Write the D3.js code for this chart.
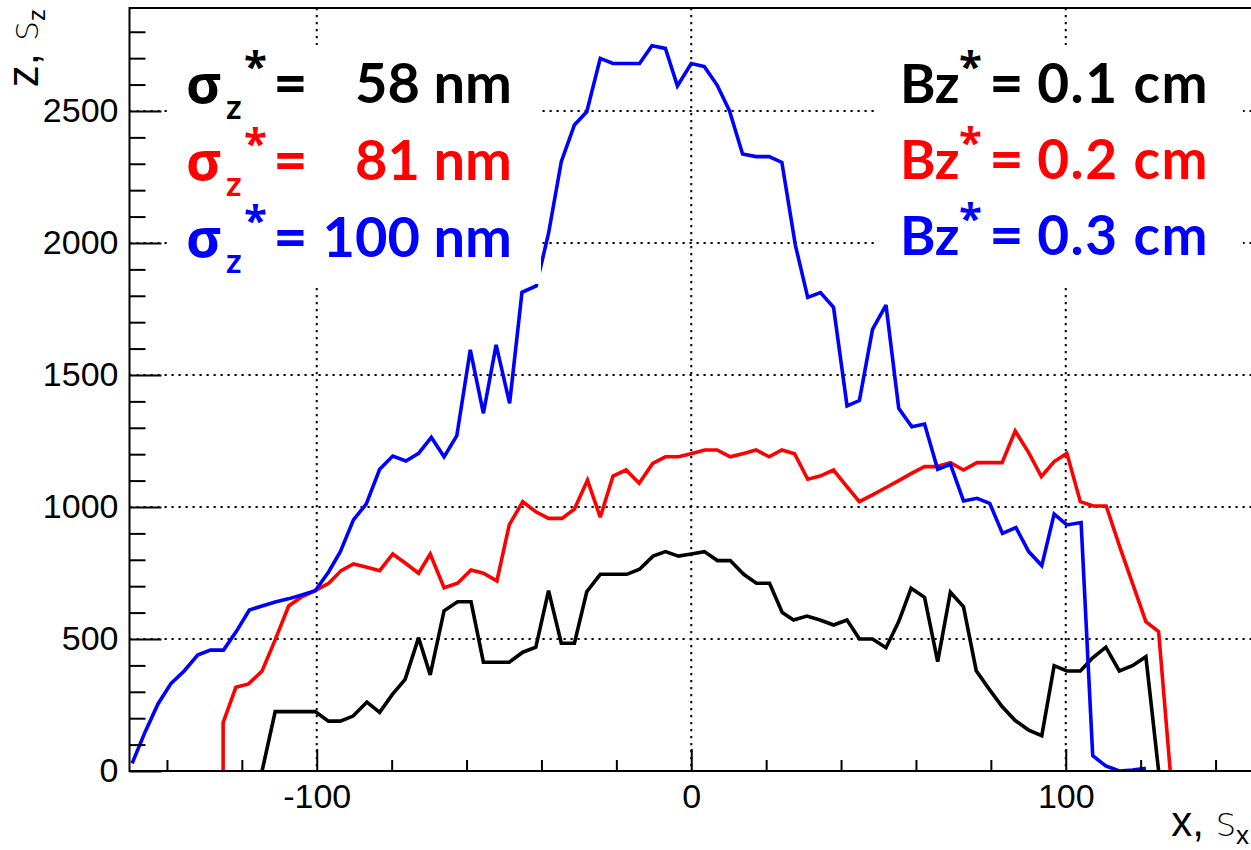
<!DOCTYPE html>
<html>
<head>
<meta charset="utf-8">
<script src="https://cdn.jsdelivr.net/npm/d3@7"></script>
<style>
  html, body { margin: 0; padding: 0; background: #fff; }
  svg { display: block; }
</style>
</head>
<body>
<svg id="chart" width="1251" height="850"></svg>
<script>
// ---------------- data ----------------
const blackX = [-114.6,-111.1,-107.6,-104.0,-100.4,-96.9,-93.7,-90.3,-86.6,-83.2,-79.8,-76.4,-72.8,-69.7,-66.0,-62.4,-58.8,-55.5,-52.0,-48.6,-45.0,-41.5,-38.1,-34.7,-31.2,-27.9,-24.3,-20.8,-17.2,-13.8,-10.2,-6.9,-3.4,0,3.5,7.0,10.4,14.0,17.4,20.9,24.3,27.3,30.9,34.4,38.0,41.6,44.9,48.4,52.0,55.4,58.7,62.3,65.8,69.2,72.7,76.1,79.4,83.0,86.5,90.1,93.6,96.9,100.3,103.9,107.2,110.7,114.3,117.8,121.4,124.8];
const blackY = [0,225,225,225,225,189,189,208,261,222,290,347,505,364,607,641,641,412,412,412,450,469,683,484,484,679,745,745,745,764,814,831,814,822,831,797,797,745,711,711,600,572,587,572,553,572,500,500,467,566,692,658,414,677,622,380,313,244,191,155,134,399,379,379,429,469,379,399,433,0];

const redX = [-125.0,-125.0,-121.6,-118.2,-114.6,-111.3,-107.5,-104.0,-100.4,-96.8,-93.5,-90.2,-86.6,-83.2,-79.7,-76.2,-72.8,-69.7,-66.0,-62.4,-58.8,-55.5,-51.9,-48.6,-45.0,-41.5,-38.1,-34.5,-31.2,-27.7,-24.3,-20.9,-17.4,-13.9,-10.3,-6.9,-3.4,0.2,3.6,6.9,10.4,14.0,17.3,20.8,24.2,27.6,31.1,34.4,38.0,41.4,44.9,48.4,51.9,55.4,58.8,62.3,65.6,69.2,72.7,76.3,79.6,83.0,86.5,90.1,93.5,96.9,100.3,103.9,107.4,110.8,114.4,117.9,121.4,124.8,127.9];
const redY = [0,183,317,330,379,490,625,660,683,711,759,784,772,759,822,786,749,822,694,711,761,749,720,932,1020,982,957,957,992,1102,961,1117,1140,1090,1165,1190,1190,1203,1216,1216,1190,1203,1216,1190,1216,1202,1105,1117,1140,1080,1020,1046,1073,1100,1127,1153,1153,1168,1140,1168,1168,1168,1288,1206,1115,1172,1203,1020,1004,1004,850,708,566,528,0];

const blueX = [-149.3,-145.8,-142.4,-138.9,-135.4,-131.8,-128.4,-124.9,-121.5,-118.0,-114.6,-111.1,-107.6,-104.0,-100.4,-96.8,-93.7,-90.2,-86.8,-83.2,-79.7,-76.2,-72.8,-69.4,-66.0,-62.6,-59.0,-55.5,-52.1,-48.5,-45.2,-41.4,-38.1,-34.7,-31.2,-27.9,-24.3,-20.9,-17.4,-13.8,-10.5,-6.9,-3.7,0,3.5,6.9,10.2,13.7,17.3,20.8,24.2,27.8,31.1,34.5,38.0,41.6,44.9,48.4,52.0,55.4,58.9,62.3,65.8,69.2,72.7,76.3,79.7,83.1,86.7,90.1,93.6,96.9,100.3,104.1,107.2,110.7,114.3,117.8,121.4];
const blueY = [29,149,254,332,379,439,458,458,528,610,625,640,652,667,683,755,831,951,1011,1143,1193,1174,1203,1264,1190,1270,1595,1355,1614,1393,1813,1837,2037,2308,2447,2497,2699,2680,2680,2680,2747,2737,2595,2680,2668,2598,2501,2337,2327,2327,2305,1992,1794,1812,1756,1383,1403,1673,1765,1374,1304,1314,1143,1162,1023,1033,1014,900,922,831,778,973,932,941,58,19,0,4,10];

const seriesColors = ["#000000", "#ff0000", "#0000ff"];
const xDomain = [-150, 150];
const yDomain = [0, 2890];
const xMajorTicks = [-100, 0, 100];
const xTickLabels = ["-100", "0", "100"];
const xMinorTicks = [-140,-120,-80,-60,-40,-20,20,40,60,80,120,140];
const yMajorTicks = [0, 500, 1000, 1500, 2000, 2500];
const yTickLabels = ["0", "500", "1000", "1500", "2000", "2500"];
const yMinorTicks = d3.range(100, 2890, 100).filter(v => v % 500 !== 0);

const leftLegendValues = ["58 nm", "81 nm", "100 nm"];
const rightLegendValues = ["0.1 cm", "0.2 cm", "0.3 cm"];

// ---------------- layout ----------------
const L = 129.5, R = 1253, T = 8, B = 771;
const svg = d3.select("#chart");
const x = d3.scaleLinear().domain(xDomain).range([L, R]);
const y = d3.scaleLinear().domain(yDomain).range([B, T]);

svg.append("defs").append("clipPath").attr("id", "frame")
  .append("rect").attr("x", L).attr("y", T).attr("width", R - L).attr("height", B - T);

// grid
const grid = svg.append("g").attr("stroke", "#000").attr("stroke-width", 2)
  .attr("stroke-dasharray", "2.2,4.8");
grid.selectAll(".gx").data(xMajorTicks).join("line")
  .attr("x1", d => x(d)).attr("x2", d => x(d)).attr("y1", T).attr("y2", B);
grid.selectAll(".gy").data(yMajorTicks.filter(d => d > 0)).join("line")
  .attr("x1", L).attr("x2", R).attr("y1", d => y(d)).attr("y2", d => y(d));

// curves
const line = d3.line().x(d => x(d[0])).y(d => y(d[1]));
const series = [
  d3.zip(blackX, blackY),
  d3.zip(redX, redY),
  d3.zip(blueX, blueY)
];
const curves = svg.append("g").attr("clip-path", "url(#frame)");
series.forEach((s, i) => {
  curves.append("path").datum(s).attr("d", line)
    .attr("fill", "none").attr("stroke", seriesColors[i])
    .attr("stroke-width", 3.6).attr("stroke-linejoin", "miter")
    .attr("stroke-miterlimit", 3);
});

// white legend boxes (hide lines under the text blocks)
svg.append("rect").attr("x", 170).attr("y", 45).attr("width", 371).attr("height", 239).attr("fill", "#fff");
svg.append("rect").attr("x", 878).attr("y", 45).attr("width", 365).attr("height", 239).attr("fill", "#fff");

// legend texts
const baseY = [103, 180, 257];
const bold = "Lato, 'Open Sans', 'Noto Sans', sans-serif";
const greek = "'Open Sans', 'Noto Sans', 'DejaVu Sans', sans-serif";
const eqFont = "'Open Sans', 'Noto Sans', sans-serif";
const lg = svg.append("g").attr("font-weight", "bold");
leftLegendValues.forEach((v, i) => {
  const c = seriesColors[i], by = baseY[i];
  lg.append("text").attr("x", 186).attr("y", by).attr("fill", c)
    .attr("font-family", greek).attr("font-size", 54).text("σ");
  lg.append("text").attr("x", 226).attr("y", by + 16).attr("fill", c)
    .attr("font-family", bold).attr("font-size", 34).text("z");
  lg.append("text").attr("x", 244).attr("y", by - 22).attr("fill", c)
    .attr("font-family", eqFont).attr("font-size", 42).text("*");
  lg.append("text").attr("x", 275).attr("y", by).attr("fill", c)
    .attr("font-family", eqFont).attr("font-size", 54).text("=");
  lg.append("text").attr("x", 512).attr("y", by).attr("fill", c)
    .attr("text-anchor", "end")
    .attr("font-family", bold).attr("font-size", 56).text(v);
});
const rBase = [103, 179, 255];
rightLegendValues.forEach((v, i) => {
  const c = seriesColors[i], by = rBase[i];
  lg.append("text").attr("x", 900).attr("y", by).attr("fill", c)
    .attr("font-family", bold).attr("font-size", 54).text("Bz");
  lg.append("text").attr("x", 959).attr("y", by - 22).attr("fill", c)
    .attr("font-family", eqFont).attr("font-size", 42).text("*");
  lg.append("text").attr("x", 991).attr("y", by).attr("fill", c)
    .attr("font-family", eqFont).attr("font-size", 54).text("=");
  lg.append("text").attr("x", 1209).attr("y", by).attr("fill", c)
    .attr("text-anchor", "end").attr("letter-spacing", 1.5)
    .attr("font-family", bold).attr("font-size", 55).text(v);
});

// frame
svg.append("rect").attr("x", L).attr("y", T).attr("width", R - L).attr("height", B - T)
  .attr("fill", "none").attr("stroke", "#000").attr("stroke-width", 2);

// axes ticks (inside the frame)
const axisFont = "'Liberation Sans', Arial, Helvetica, sans-serif";
const xAxis = d3.axisBottom(x).tickValues(xMajorTicks).tickSize(-22)
  .tickFormat((d, i) => xTickLabels[i]);
const gx = svg.append("g").attr("transform", `translate(0,${B})`).call(xAxis);
gx.select(".domain").remove();
gx.selectAll(".tick line").attr("stroke", "#000").attr("stroke-width", 2);
gx.selectAll(".tick text").attr("font-family", axisFont).attr("font-size", 34)
  .attr("fill", "#000").attr("y", 13).attr("dy", "0.71em");
const xAxisMinor = d3.axisBottom(x).tickValues(xMinorTicks).tickSize(-11).tickFormat("");
const gxm = svg.append("g").attr("transform", `translate(0,${B})`).call(xAxisMinor);
gxm.select(".domain").remove();
gxm.selectAll(".tick line").attr("stroke", "#000").attr("stroke-width", 2);

const yAxis = d3.axisLeft(y).tickValues(yMajorTicks).tickSize(-32)
  .tickFormat((d, i) => yTickLabels[i]);
const gy = svg.append("g").attr("transform", `translate(${L},0)`).call(yAxis);
gy.select(".domain").remove();
gy.selectAll(".tick line").attr("stroke", "#000").attr("stroke-width", 2);
gy.selectAll(".tick text").attr("font-family", axisFont).attr("font-size", 34)
  .attr("fill", "#000").attr("x", -11);
const yAxisMinor = d3.axisLeft(y).tickValues(yMinorTicks).tickSize(-16).tickFormat("");
const gym = svg.append("g").attr("transform", `translate(${L},0)`).call(yAxisMinor);
gym.select(".domain").remove();
gym.selectAll(".tick line").attr("stroke", "#000").attr("stroke-width", 2);

// axis titles
const xt = svg.append("text").attr("x", 1249).attr("y", 836).attr("text-anchor", "end")
  .attr("font-family", axisFont).attr("fill", "#000");
xt.append("tspan").attr("font-size", 42).text("x, ");
xt.append("tspan").attr("font-size", 32).attr("font-family", "'DejaVu Sans', sans-serif")
  .attr("font-weight", 200).text("S");
xt.append("tspan").attr("font-size", 26).attr("dy", 8).text("x");

const yt = svg.append("text").attr("transform", "translate(38,9) rotate(-90)")
  .attr("text-anchor", "end").attr("font-family", axisFont).attr("fill", "#000");
yt.append("tspan").attr("font-size", 44).text("z, ");
yt.append("tspan").attr("font-size", 31).attr("font-family", "'DejaVu Sans', sans-serif")
  .attr("font-weight", 200).text("S");
yt.append("tspan").attr("font-size", 24).attr("dy", 7).text("z");
</script>
</body>
</html>
